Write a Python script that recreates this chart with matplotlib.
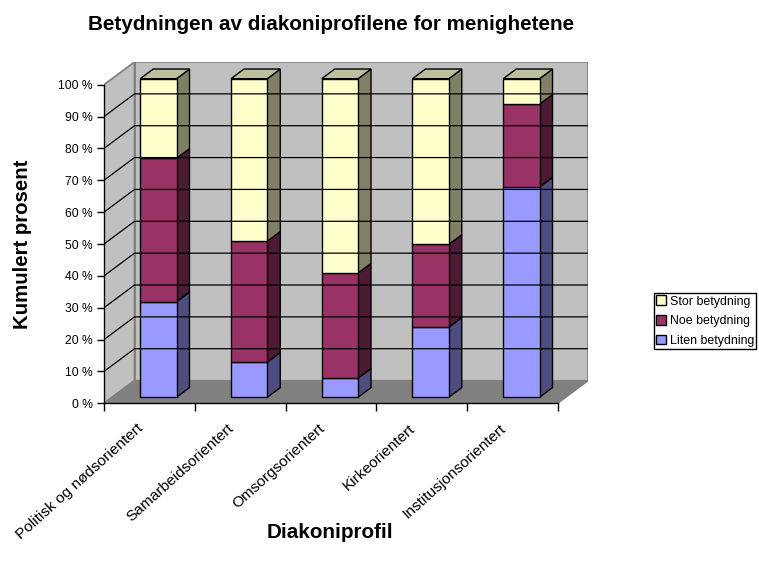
import matplotlib
matplotlib.use('Agg')
import matplotlib.pyplot as plt
from matplotlib.patches import Polygon, Patch
from matplotlib.transforms import ScaledTranslation

plt.rcParams['font.family'] = ['Liberation Sans', 'DejaVu Sans']

categories = ['Politisk og nødsorientert', 'Samarbeidsorientert', 'Omsorgsorientert',
              'Kirkeorientert', 'Institusjonsorientert']
liten = [30, 11, 6, 22, 66]
noe = [45, 38, 33, 26, 26]
stor = [25, 51, 61, 52, 8]
series_names = ['Liten betydning', 'Noe betydning', 'Stor betydning']
y_ticks = [0, 10, 20, 30, 40, 50, 60, 70, 80, 90, 100]

front_colors = ['#9999FF', '#993366', '#FFFFCC']
side_colors = ['#4D4D80', '#4D1A33', '#808066']
top_color = '#BFBF9E'

W, H = 759, 569
# pixel box of the plot, front corner to back corner
left, right, bottom, top = 104.0, 588.3, 403.3, 62.0
# how far the back wall is shifted, in data units
DX = 30.5 / 90.7
DY = 22.7 / 3.183


def pt(x, y, d):
    return (x + d * DX, y + d * DY)


def face(ax, pts, color, edge='black', lw=1.0):
    ax.add_patch(Polygon(pts, closed=True, facecolor=color, edgecolor=edge, linewidth=lw, joinstyle='miter'))


fig = plt.figure(figsize=(W / 100, H / 100), dpi=100, facecolor='white')
ax = fig.add_axes([left / W, 1 - bottom / H, (right - left) / W, (bottom - top) / H])
ax.set_xlim(0, 5 + DX)
ax.set_ylim(0, 100 + DY)
ax.patch.set_visible(False)

# walls and floor
face(ax, [pt(0, 0, 1), pt(5, 0, 1), pt(5, 100, 1), pt(0, 100, 1)], '#C0C0C0', '#808080', 1.3)
face(ax, [pt(0, 0, 0), pt(0, 0, 1), pt(0, 100, 1), pt(0, 100, 0)], '#C0C0C0', '#808080', 1.3)
face(ax, [pt(0, 0, 0), pt(5, 0, 0), pt(5, 0, 1), pt(0, 0, 1)], '#808080', '#808080', 1.0)

# gridlines
for v in y_ticks[1:-1]:
    xs = [pt(0, v, 0)[0], pt(0, v, 1)[0], pt(5, v, 1)[0]]
    ys = [pt(0, v, 0)[1], pt(0, v, 1)[1], pt(5, v, 1)[1]]
    ax.plot(xs, ys, color='black', lw=0.9, solid_joinstyle='miter')

# bars
d0, d1 = 0.265, 0.69
for i in range(len(categories)):
    x0 = i + 0.31
    x1 = x0 + 0.4
    base = 0
    for j, vals in enumerate([liten, noe, stor]):
        t = base + vals[i]
        face(ax, [pt(x1, base, d0), pt(x1, base, d1), pt(x1, t, d1), pt(x1, t, d0)], side_colors[j])
        face(ax, [pt(x0, base, d0), pt(x1, base, d0), pt(x1, t, d0), pt(x0, t, d0)], front_colors[j])
        base = t
    face(ax, [pt(x0, base, d0), pt(x1, base, d0), pt(x1, base, d1), pt(x0, base, d1)], top_color)

# axes
for s in ['top', 'right']:
    ax.spines[s].set_visible(False)
ax.spines['left'].set_bounds(0, 100)
ax.spines['bottom'].set_bounds(0, 5)
ax.spines['left'].set_linewidth(1.0)
ax.spines['bottom'].set_linewidth(1.0)
ax.set_yticks(y_ticks)
ax.set_yticklabels([f'{v} %' for v in y_ticks])
ax.tick_params(axis='y', length=5, width=1, labelsize=8.7, pad=3)
ax.set_xticks(range(6))
ax.set_xticklabels([])
ax.tick_params(axis='x', which='major', length=5.5, width=1)
ax.set_xticks([i + 0.5 for i in range(5)], minor=True)
ax.set_xticklabels(categories, minor=True, rotation=42, ha='right', va='top', rotation_mode='anchor', fontsize=11.1)
ax.tick_params(axis='x', which='minor', length=0, pad=13)
for lab in ax.get_xticklabels(minor=True):
    lab.set_transform(lab.get_transform() + ScaledTranslation(-13 / 100, 0, fig.dpi_scale_trans))

fig.text(331 / W, 1 - 24 / H, 'Betydningen av diakoniprofilene for menighetene', fontsize=14.9, fontweight='bold', ha='center', va='center')
fig.text(330 / W, 1 - 532 / H, 'Diakoniprofil', fontsize=14.9, fontweight='bold', ha='center', va='center')
fig.text(23 / W, 1 - 244.5 / H, 'Kumulert prosent', fontsize=14.7, fontweight='bold', ha='center', va='center', rotation=90)

handles = [Patch(facecolor=front_colors[j], edgecolor='black', label=series_names[j]) for j in [2, 1, 0]]
fig.legend(handles=handles, loc='upper left', bbox_to_anchor=(654 / W, 1 - 293 / H), fontsize=8.95,
           fancybox=False, framealpha=1, edgecolor='black', borderaxespad=0, borderpad=0.2,
           handlelength=0.8, handleheight=0.8, handletextpad=0.25, labelspacing=0.6)

plt.savefig('out.png', dpi=100)
